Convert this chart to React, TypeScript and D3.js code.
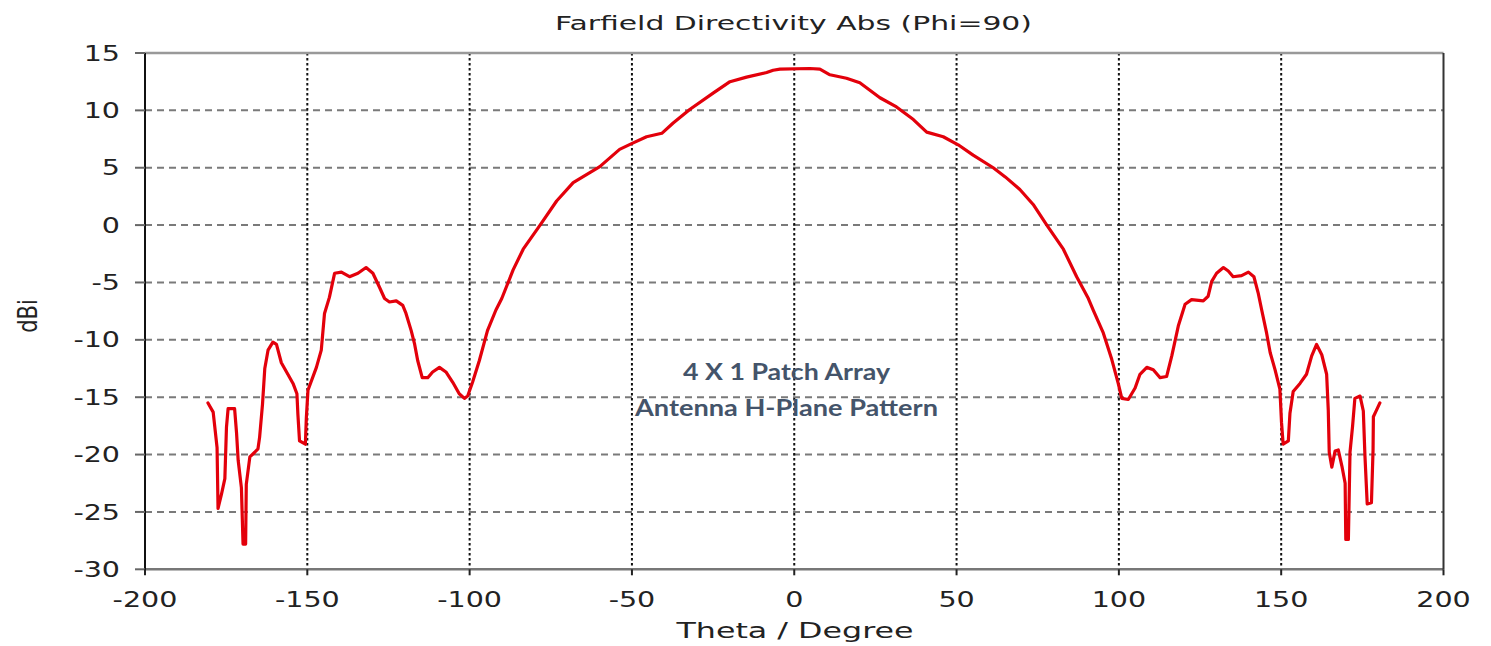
import React from "react";
import * as d3 from "d3";

const theta: number[] = [
  -180.6, -179.0, -177.8, -177.5, -176.4, -175.4, -174.9, -174.4, -172.4, -171.8,
  -171.3, -170.3, -169.8, -169.0, -168.8, -167.7, -166.2, -165.2, -164.7, -163.8,
  -163.1, -162.1, -160.6, -159.5, -158.0, -156.0, -154.4, -153.2, -152.9, -152.4,
  -150.6, -150.3, -149.8, -147.2, -145.7, -144.7, -143.2, -141.6, -139.5, -137.0,
  -134.4, -131.9, -129.8, -127.8, -126.2, -124.7, -122.6, -120.6, -119.6, -118.0,
  -117.0, -116.0, -114.6, -112.9, -111.4, -109.3, -107.3, -105.2, -103.2, -101.6,
  -100.6, -99.1, -97.0, -94.5, -91.9, -90.1, -86.6, -83.5, -78.3, -73.2,
  -68.1, -64.0, -59.9, -53.8, -50.1, -45.5, -40.8, -37.3, -32.1, -25.0, -19.8,
  -14.7, -8.5, -6.5, -4.4, 4.8, 7.9, 11.0, 16.1, 20.2, 26.4,
  31.5, 36.7, 40.8, 45.9, 50.5, 55.1, 61.3, 65.0, 69.5, 73.6, 77.8,
  82.9, 87.0, 90.6, 92.1, 95.2, 97.8, 99.8, 100.9, 102.9, 105.0,
  106.5, 108.6, 110.6, 112.7, 114.7, 116.3, 118.3, 120.4, 122.4, 126.0,
  127.5, 128.6, 130.1, 132.2, 133.7, 135.2, 137.8, 139.9, 141.6, 142.9,
  144.0, 145.5, 146.6, 148.1, 149.6, 150.1, 150.6, 152.2, 152.7, 153.7,
  155.8, 157.8, 159.4, 160.9, 162.5, 164.0, 164.5, 164.8, 165.6, 166.6,
  167.6, 168.7, 169.7, 169.9, 170.7, 171.2, 172.0, 172.7, 174.3, 175.3,
  175.8, 176.5, 177.8, 178.3, 178.4, 179.4, 180.4,
];

const dBi: number[] = [
  -15.5, -16.3, -19.4, -24.7, -23.4, -22.1, -17.6, -16.0, -16.0, -18.1,
  -20.5, -22.9, -27.8, -27.8, -22.6, -20.2, -19.8, -19.5, -18.5, -15.6,
  -12.5, -10.9, -10.2, -10.4, -12.0, -13.0, -13.8, -14.7, -16.5, -18.8,
  -19.1, -16.8, -14.4, -12.4, -10.9, -7.7, -6.3, -4.2, -4.1, -4.5,
  -4.2, -3.7, -4.2, -5.4, -6.4, -6.7, -6.6, -7.0, -7.7, -9.2,
  -10.3, -11.8, -13.3, -13.3, -12.8, -12.4, -12.8, -13.7, -14.7, -15.1,
  -14.9, -13.7, -11.8, -9.2, -7.4, -6.4, -3.9, -2.1, 0.0, 2.1,
  3.7, 4.4, 5.1, 6.6, 7.1, 7.7, 8.0, 8.9, 10.1, 11.5, 12.5,
  12.9, 13.3, 13.5, 13.6, 13.65, 13.6, 13.1, 12.8, 12.4, 11.1,
  10.3, 9.2, 8.1, 7.7, 7.0, 6.1, 5.0, 4.2, 3.1, 1.8, 0.0,
  -2.1, -4.5, -6.4, -7.4, -9.4, -11.7, -13.8, -15.1, -15.2, -14.2,
  -13.0, -12.4, -12.6, -13.3, -13.2, -11.4, -8.8, -6.9, -6.5, -6.6,
  -6.2, -4.9, -4.2, -3.7, -4.0, -4.5, -4.4, -4.1, -4.5, -5.9,
  -7.4, -9.4, -11.1, -12.6, -14.3, -17.2, -19.1, -18.8, -16.4, -14.5,
  -13.8, -13.0, -11.4, -10.4, -11.3, -13.0, -16.1, -19.8, -21.1, -19.7,
  -19.6, -21.0, -22.5, -27.4, -27.4, -19.8, -17.5, -15.1, -14.9, -16.2,
  -20.1, -24.3, -24.2, -19.6, -16.7, -16.1, -15.5,
];

const xTicks: number[] = [-200, -150, -100, -50, 0, 50, 100, 150, 200];
const yTicks: number[] = [15, 10, 5, 0, -5, -10, -15, -20, -25, -30];

const titleText = "Farfield Directivity Abs (Phi=90)";
const xTitle = "Theta / Degree";
const yTitle = "dBi";
const noteLines: string[] = ["4 X 1 Patch Array", "Antenna H-Plane Pattern"];

const W = 1491;
const H = 646;
const L = 145;
const R = 1443.5;
const T = 53;
const B = 569.3;

const FONT = "'DejaVu Sans', Verdana, sans-serif";
const SX = 1.36;

export default function App() {
  const x = d3.scaleLinear().domain([-200, 200]).range([L, R]);
  const y = d3.scaleLinear().domain([-30, 15]).range([B, T]);
  const pts: [number, number][] = theta.map((t, i) => [t, dBi[i]]);
  const line = d3
    .line<[number, number]>()
    .x((d) => x(d[0]))
    .y((d) => y(d[1]));

  return (
    <svg
      width={W}
      height={H}
      style={{ position: "absolute", left: 0, top: 0, background: "#fff" }}
    >
      <rect x={0} y={0} width={W} height={H} fill="#fff" />
      {yTicks
        .filter((v) => v !== 15 && v !== -30)
        .map((v) => (
          <line
            key={"hg" + v}
            x1={L}
            x2={R}
            y1={y(v)}
            y2={y(v)}
            stroke="#7a7a7a"
            strokeWidth={2}
            strokeDasharray="7,5"
          />
        ))}
      {xTicks
        .filter((v) => v !== -200 && v !== 200)
        .map((v) => (
          <line
            key={"vg" + v}
            x1={x(v)}
            x2={x(v)}
            y1={T}
            y2={B}
            stroke="#111"
            strokeWidth={2}
            strokeDasharray="2.5,2.5"
          />
        ))}
      <line x1={L} x2={R} y1={T} y2={T} stroke="#999" strokeWidth={2.5} />
      <line x1={L} x2={R} y1={B} y2={B} stroke="#777" strokeWidth={2.5} />
      <line x1={R} x2={R} y1={T} y2={B} stroke="#333" strokeWidth={2} />
      <line x1={L} x2={L} y1={T} y2={B + 4} stroke="#111" strokeWidth={2} />
      {yTicks.map((v) => (
        <g key={"yt" + v}>
          <line x1={L - 10} x2={L} y1={y(v)} y2={y(v)} stroke="#666" strokeWidth={2} />
          <text
            transform={`translate(${L - 25},${y(v) + 7.6}) scale(${SX},1)`}
            textAnchor="end"
            fontFamily={FONT}
            fontSize={21}
            fill="#222"
          >
            {v}
          </text>
        </g>
      ))}
      {xTicks.map((v) => (
        <g key={"xt" + v}>
          <line x1={x(v)} x2={x(v)} y1={B} y2={B + 6} stroke="#222" strokeWidth={2} />
          <text
            transform={`translate(${x(v)},${606.5}) scale(${SX},1)`}
            textAnchor="middle"
            fontFamily={FONT}
            fontSize={21}
            fill="#222"
          >
            {v}
          </text>
        </g>
      ))}
      <path
        d={line(pts) || ""}
        fill="none"
        stroke="#e3000b"
        strokeWidth={3.2}
        strokeLinejoin="round"
        strokeLinecap="round"
      />
      <text
        x={793.5}
        y={30}
        textAnchor="middle"
        fontFamily={FONT}
        fontSize={20}
        fill="#222"
        textLength={477}
        lengthAdjust="spacingAndGlyphs"
      >
        {titleText}
      </text>
      <text
        x={795}
        y={638}
        textAnchor="middle"
        fontFamily={FONT}
        fontSize={21}
        fill="#222"
        textLength={237}
        lengthAdjust="spacingAndGlyphs"
      >
        {xTitle}
      </text>
      <text
        transform={`translate(37,316) scale(1.3,1) rotate(-90)`}
        textAnchor="middle"
        fontFamily={FONT}
        fontSize={21}
        fill="#222"
      >
        {yTitle}
      </text>
      <text
        x={786.5}
        y={380}
        textAnchor="middle"
        fontFamily="Lato, 'Open Sans', sans-serif"
        fontWeight="bold"
        fontSize={23}
        fill="#44546a"
        textLength={207}
        lengthAdjust="spacingAndGlyphs"
      >
        {noteLines[0]}
      </text>
      <text
        x={786.5}
        y={416}
        textAnchor="middle"
        fontFamily="Lato, 'Open Sans', sans-serif"
        fontWeight="bold"
        fontSize={23}
        fill="#44546a"
        textLength={303}
        lengthAdjust="spacingAndGlyphs"
      >
        {noteLines[1]}
      </text>
    </svg>
  );
}
